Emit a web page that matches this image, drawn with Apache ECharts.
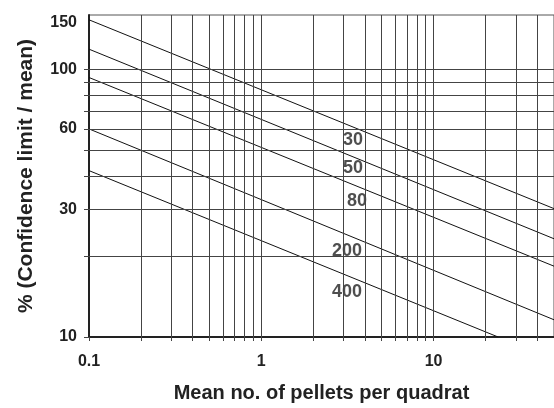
<!DOCTYPE html>
<html>
<head>
<meta charset="utf-8">
<script src="https://cdn.jsdelivr.net/npm/echarts@6/dist/echarts.min.js"></script>
<style>
    html, body { margin: 0; padding: 0; background: #fff; }
    #chart { width: 554px; height: 408px; }
</style>
</head>
<body>
<div id="chart"></div>
<script>
// number of quadrats for each line
const quadrats = ['30', '50', '80', '200', '400'];
// line end points [x, y]
const lineStart = [[0.1, 153.5], [0.1, 119.2], [0.1, 93.4], [0.1, 60.0], [0.1, 41.9]];
const lineEnd = [[50, 30.2], [50, 23.3], [50, 18.4], [50, 11.6], [23.7, 10]];
// where each line's label sits
const labelAt = [[3.41, 54.7], [3.41, 42.7], [3.59, 32.2], [3.14, 20.9], [3.14, 14.7]];

const xTickLabels = [0.1, 1, 10];
const yTickLabels = [10, 30, 60, 100, 150];
const xGrid = [0.2, 0.3, 0.4, 0.5, 0.6, 0.7, 0.8, 0.9, 1, 2, 3, 4, 5, 6, 7, 8, 9, 10, 20, 30, 40];
const yGrid = [20, 30, 40, 50, 60, 70, 80, 90, 100];

const font = "'Liberation Sans', Arial, sans-serif";

document.addEventListener('DOMContentLoaded', function() {
    const chart = echarts.init(document.getElementById('chart'));

    const series = quadrats.map(function(name, i) {
        return {
            name: name,
            type: 'line',
            symbol: 'none',
            silent: true,
            lineStyle: { color: '#111', width: 1 },
            data: [lineStart[i], lineEnd[i]],
            z: 3
        };
    });

    // grid lines
    series.push({
        type: 'line',
        data: [],
        silent: true,
        markLine: {
            silent: true,
            symbol: 'none',
            label: { show: false },
            lineStyle: { color: '#444', width: 1, type: 'solid' },
            data: xGrid.map(function(v) { return { xAxis: v }; })
                .concat(yGrid.map(function(v) { return { yAxis: v }; }))
        }
    });

    // line labels
    series.push({
        type: 'scatter',
        symbolSize: 0,
        silent: true,
        data: labelAt.map(function(p, i) { return [p[0], p[1], quadrats[i]]; }),
        label: {
            show: true,
            position: 'inside',
            formatter: function(p) { return p.value[2]; },
            color: '#222',
            fontFamily: font,
            fontWeight: 'bold',
            fontSize: 18
        },
        z: 4
    });

    const option = {
        animation: false,
        grid: {
            left: 89,
            right: 0,
            top: 15,
            bottom: 70,
            show: true,
            borderColor: '#555',
            borderWidth: 1
        },
        xAxis: {
            type: 'log',
            logBase: 10,
            min: 0.1,
            max: 50,
            name: 'Mean no. of pellets per quadrat',
            nameLocation: 'middle',
            nameGap: 46,
            nameTextStyle: { color: '#222', fontFamily: font, fontWeight: 'bold', fontSize: 20 },
            axisLine: { show: true, lineStyle: { color: '#222', width: 2 } },
            axisTick: { show: true, customValues: xGrid.concat([0.1]), length: 4, lineStyle: { color: '#444' } },
            axisLabel: {
                customValues: xTickLabels,
                margin: 17,
                color: '#222',
                fontFamily: font,
                fontWeight: 'bold',
                fontSize: 16,
                formatter: function(v) { return String(v); }
            },
            splitLine: { show: false },
            minorSplitLine: { show: false }
        },
        yAxis: {
            type: 'log',
            logBase: 10,
            min: 10,
            max: 160,
            name: '% (Confidence limit / mean)',
            nameLocation: 'middle',
            nameGap: 52,
            nameTextStyle: { color: '#222', fontFamily: font, fontWeight: 'bold', fontSize: 21 },
            axisLine: { show: true, lineStyle: { color: '#222', width: 2 } },
            axisTick: { show: true, customValues: yGrid.concat([10]), length: 5, lineStyle: { color: '#444' } },
            axisLabel: {
                customValues: yTickLabels,
                margin: 12,
                color: '#222',
                fontFamily: font,
                fontWeight: 'bold',
                fontSize: 16,
                formatter: function(v) { return String(v); }
            },
            splitLine: { show: false }
        },
        series: series
    };
    chart.setOption(option);
});
</script>
</body>
</html>
